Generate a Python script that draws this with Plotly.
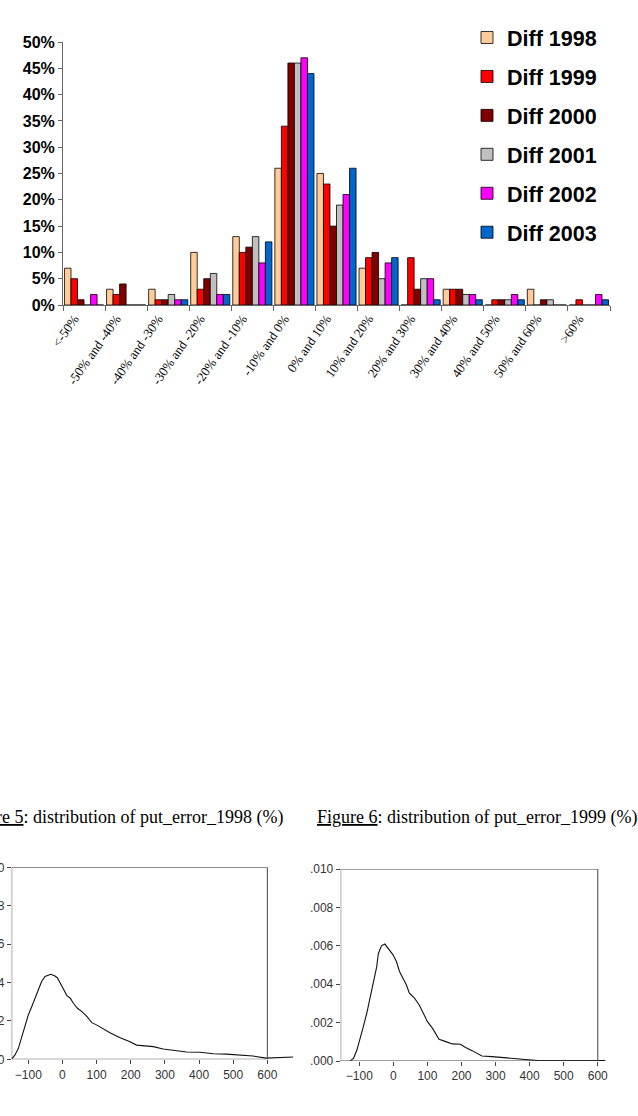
import plotly.graph_objects as go

W, H = 638, 1116

# ---------------- data ----------------
categories = ["<-50%", "-50% and -40%", "-40% and -30%", "-30% and -20%", "-20% and -10%",
              "-10% and 0%", "0% and 10%", "10% and 20%", "20% and 30%", "30% and 40%",
              "40% and 50%", "50% and 60%", ">60%"]
diff_1998 = [7, 3, 3, 10, 13, 26, 25, 7, 0, 3, 0, 3, 0]
diff_1999 = [5, 2, 1, 3, 10, 34, 23, 9, 9, 3, 1, 0, 1]
diff_2000 = [1, 4, 1, 5, 11, 46, 15, 10, 3, 3, 1, 1, 0]
diff_2001 = [0, 0, 2, 6, 13, 46, 19, 5, 5, 2, 1, 1, 0]
diff_2002 = [2, 0, 1, 2, 8, 47, 21, 8, 5, 2, 2, 0, 2]
diff_2003 = [0, 0, 1, 2, 12, 44, 26, 9, 1, 1, 1, 0, 1]
series_names = ["Diff 1998", "Diff 1999", "Diff 2000", "Diff 2001", "Diff 2002", "Diff 2003"]
series_colors = ["#FFCC99", "#FF0000", "#800000", "#C0C0C0", "#FF00FF", "#0066CC"]

pe1998_x = [-149, -139, -129, -120, -110, -100, -90, -80, -71, -61, -51, -41, -34, -22, -15, -7,
            3, 13, 23, 32, 44, 57, 72, 86, 101, 120, 139, 169, 198, 217, 237, 266, 295, 325,
            364, 403, 442, 480, 519, 558, 597, 640, 676]
pe1998_d = [0, 0.00023, 0.00057, 0.00109, 0.0017, 0.00231, 0.00274, 0.00318, 0.00361, 0.00405,
            0.00431, 0.00439, 0.00443, 0.00434, 0.00425, 0.00399, 0.00361, 0.00332, 0.00318,
            0.00292, 0.00266, 0.00248, 0.00222, 0.00191, 0.00178, 0.00158, 0.00138, 0.00112,
            0.00092, 0.00074, 0.00071, 0.00066, 0.00054, 0.00046, 0.00038, 0.00037, 0.00029,
            0.00027, 0.00021, 0.00017, 0.00006, 0.00008, 0.00012]

pe1999_x = [-127, -117, -107, -98, -88, -78, -69, -59, -49, -44, -35, -25, -15, -1, 9, 18, 28,
            38, 47, 62, 76, 86, 100, 115, 134, 154, 173, 197, 212, 231, 260, 289, 328, 366,
            395, 424, 463, 501, 550, 593, 622]
pe1999_d = [0, 0.00014, 0.00057, 0.0011, 0.0018, 0.0025, 0.0033, 0.0041, 0.0049, 0.0056, 0.0060,
            0.00609, 0.00588, 0.00553, 0.00518, 0.00466, 0.00431, 0.00397, 0.00353, 0.00327,
            0.00292, 0.00257, 0.00205, 0.0017, 0.00113, 0.00101, 0.00089, 0.00087, 0.0007,
            0.00054, 0.00026, 0.00023, 0.00017, 0.00014, 0.00009, 0.00002, 0.00002, 0.00002,
            0.00003, 0.00005, 0.00002]

density_ticks = [-100, 0, 100, 200, 300, 400, 500, 600]
density_yticks = [0, 0.002, 0.004, 0.006, 0.008, 0.010]
density_yticktext = [".000", ".002", ".004", ".006", ".008", ".010"]


def px_x(p):
    return p / W


def px_y(p):
    return 1 - p / H


fig = go.Figure()

all_series = [diff_1998, diff_1999, diff_2000, diff_2001, diff_2002, diff_2003]
for name, col, vals in zip(series_names, series_colors, all_series):
    fig.add_trace(go.Bar(
        x=categories, y=vals, name=name, legendgroup=name,
        marker=dict(color=col, line=dict(color="black", width=0.8)),
        xaxis="x", yaxis="y",
    ))

fig.add_trace(go.Scatter(x=pe1998_x, y=pe1998_d, mode="lines", showlegend=False,
                         line=dict(color="#111", width=1.1), xaxis="x2", yaxis="y2"))
fig.add_trace(go.Scatter(x=pe1999_x, y=pe1999_d, mode="lines", showlegend=False,
                         line=dict(color="#111", width=1.1), xaxis="x3", yaxis="y3"))

axis_font = dict(family="Liberation Sans, Arial", size=12, color="#333")

x2_range = [-148.6, 676]
x3_range = [-154.6, 630]

fig.update_layout(
    width=W, height=H, margin=dict(l=0, r=0, t=0, b=0, autoexpand=False),
    paper_bgcolor="white", plot_bgcolor="rgba(0,0,0,0)",
    barmode="group", bargap=0.07, bargroupgap=0,
    showlegend=True,
    legend=dict(x=px_x(467), y=px_y(17), xanchor="left", yanchor="top",
                font=dict(family="Liberation Sans, Arial", size=21.5, color="black", weight="bold"),
                tracegroupgap=8, bgcolor="rgba(0,0,0,0)"),
    xaxis=dict(domain=[px_x(63), px_x(610)], type="category", anchor="y", automargin=False,
               showline=True, linecolor="#666", linewidth=1,
               ticks="outside", tickson="boundaries", ticklen=5, tickcolor="#666",
               tickangle=-55, ticklabelshift=-10,
               tickfont=dict(family="Liberation Serif, Times New Roman", size=13, color="black"),
               showgrid=False, zeroline=False),
    yaxis=dict(domain=[px_y(305), px_y(42)], range=[0, 50], anchor="x", automargin=False,
               dtick=5, ticksuffix="%", showline=True, linecolor="#666", linewidth=1,
               ticks="outside", ticklen=4, tickcolor="#666",
               tickfont=dict(family="Liberation Sans, Arial", size=16, color="black", weight="bold"),
               showgrid=False, zeroline=False),
    xaxis2=dict(domain=[px_x(11.7), px_x(293.3)], range=x2_range, anchor="y2", automargin=False,
                tickvals=density_ticks, ticks="outside", ticklen=4, tickcolor="#444",
                tickfont=axis_font, showline=False, showgrid=False, zeroline=False),
    yaxis2=dict(domain=[px_y(1059.3), px_y(867.3)], range=[0, 0.010], anchor="x2", automargin=False,
                tickvals=density_yticks, ticktext=density_yticktext,
                ticks="outside", ticklen=4, tickcolor="#444",
                tickfont=axis_font, showline=False, showgrid=False, zeroline=False),
    xaxis3=dict(domain=[px_x(340.7), px_x(608)], range=x3_range, anchor="y3", automargin=False,
                tickvals=density_ticks, ticks="outside", ticklen=4, tickcolor="#444",
                tickfont=axis_font, showline=False, showgrid=False, zeroline=False),
    yaxis3=dict(domain=[px_y(1061), px_y(869)], range=[0, 0.010], anchor="x3", automargin=False,
                tickvals=density_yticks, ticktext=density_yticktext,
                ticks="outside", ticklen=4, tickcolor="#444",
                tickfont=axis_font, showline=False, showgrid=False, zeroline=False),
)

fig.add_shape(type="rect", xref="x2", yref="y2", x0=x2_range[0], x1=600, y0=0, y1=0.010,
              line=dict(color="#444", width=1))
fig.add_shape(type="rect", xref="x3", yref="y3", x0=x3_range[0], x1=600, y0=0, y1=0.010,
              line=dict(color="#444", width=1))

cap_font = dict(family="Liberation Serif, Times New Roman", size=18, color="black")
fig.add_annotation(text="<u>Figure 5</u>: distribution of put_error_1998 (%)",
                   xref="paper", yref="paper", x=px_x(284), y=px_y(817),
                   xanchor="right", yanchor="middle", showarrow=False, font=cap_font,
                   borderpad=0)
fig.add_annotation(text="<u>Figure 6</u>: distribution of put_error_1999 (%)",
                   xref="paper", yref="paper", x=px_x(316), y=px_y(817),
                   xanchor="left", yanchor="middle", showarrow=False, font=cap_font,
                   borderpad=0)

fig.write_html("out.html")
